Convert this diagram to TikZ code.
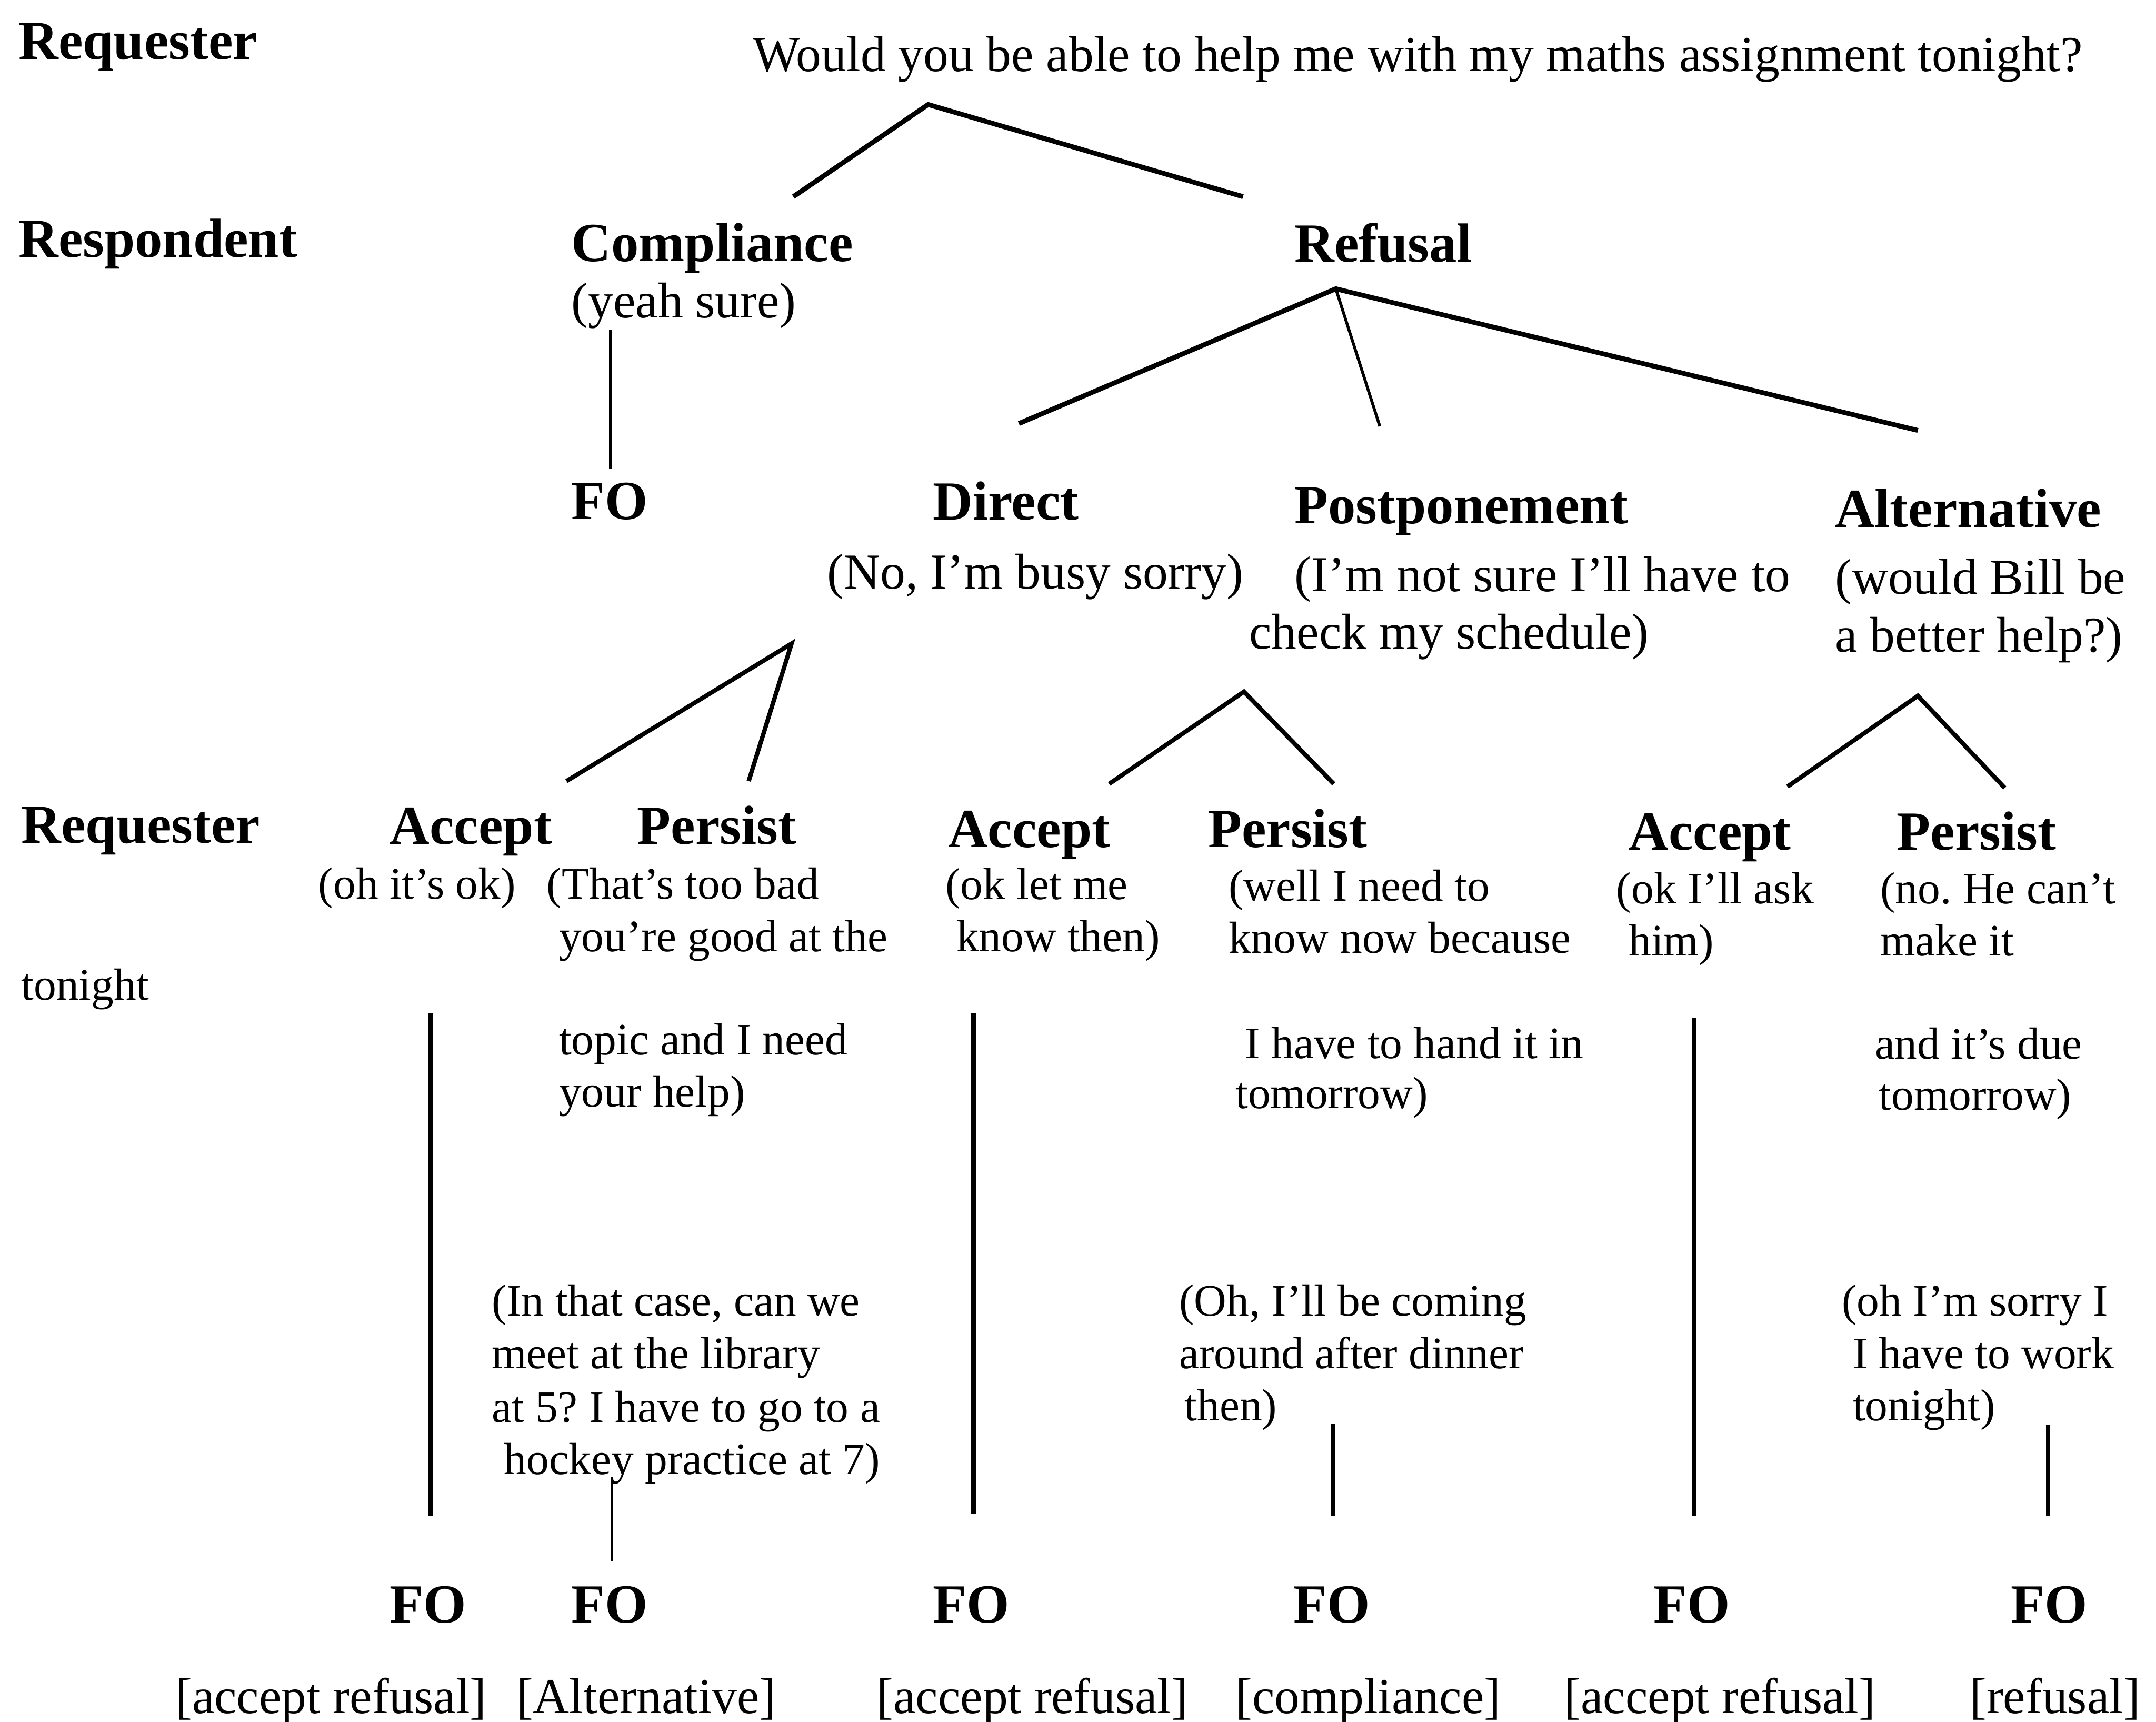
\documentclass[tikz,border=0pt]{standalone}
\usepackage{fontspec}
\setmainfont{Liberation Serif}
\frenchspacing
\begin{document}
\begin{tikzpicture}[x=0.01cm,y=-0.01cm,line width=0.9pt,
	head/.style={anchor=base west,inner sep=0pt,font=\fontsize{11.4}{13}\selectfont\bfseries},
	utt/.style={anchor=base west,inner sep=0pt,font=\fontsize{10.4}{12}\selectfont},
	reply/.style={utt,font=\fontsize{9.3}{11}\selectfont},
	branch/.style={line width=1pt},
	fine/.style={line width=0.6pt}]
		\useasboundingbox (0,0) rectangle (1568,1252);
		\node[head] (req1) at (12,43) {Requester};
		\node[utt] (question) at (546,52) {Would you be able to help me with my maths assignment tonight?};
		\node[head] (resp) at (12,187) {Respondent};
		\node[head] (compl) at (414,190) {Compliance};
		\node[utt] (complex) at (414,231) {(yeah sure)};
		\node[head] (refusal) at (940,190.5) {Refusal};
		\node[head] (fo0) at (414,377.6) {FO};
		\node[head] (direct) at (677,378) {Direct};
		\node[utt] (directex) at (600,428) {(No, I'm busy sorry)};
		\node[head] (postp) at (940,380.6) {Postponement};
		\node[utt] (postpexa) at (940,430) {(I'm not sure I'll have to};
		\node[utt] (postpexb) at (907,472) {check my schedule)};
		\node[head] (altern) at (1333,383.5) {Alternative};
		\node[utt] (alternexa) at (1333,432) {(would Bill be};
		\node[utt] (alternexb) at (1333,474) {a better help?)};
		\node[head] (req2) at (14,613) {Requester};
		\node[reply] (tonight) at (14,727) {tonight};
		\node[head] (accA) at (282,614) {Accept};
		\node[reply] (accAa) at (230,653.6) {(oh it's ok)};
		\node[head] (perA) at (462,614) {Persist};
		\node[reply] (perAa) at (396,653.6) {(That's too bad};
		\node[reply] (perAb) at (405,692) {you're good at the};
		\node[reply] (perAc) at (405,767) {topic and I need};
		\node[reply] (perAd) at (405,805) {your help)};
		\node[reply] (respAa) at (356,957) {(In that case, can we};
		\node[reply] (respAb) at (356,995) {meet at the library};
		\node[reply] (respAc) at (356,1034) {at 5? I have to go to a};
		\node[reply] (respAd) at (365,1072) {hockey practice at 7)};
		\node[head] (accB) at (688,616) {Accept};
		\node[reply] (accBa) at (686,654) {(ok let me};
		\node[reply] (accBb) at (694,692) {know then)};
		\node[head] (perB) at (877,616) {Persist};
		\node[reply] (perBa) at (892,655) {(well I need to};
		\node[reply] (perBb) at (892,693) {know now because};
		\node[reply] (perBc) at (904,769.5) {I have to hand it in};
		\node[reply] (perBd) at (897,806) {tomorrow)};
		\node[reply] (respBa) at (856,957) {(Oh, I'll be coming};
		\node[reply] (respBb) at (856,995) {around after dinner};
		\node[reply] (respBc) at (860,1033) {then)};
		\node[head] (accC) at (1183,618) {Accept};
		\node[reply] (accCa) at (1174,657) {(ok I'll ask};
		\node[reply] (accCb) at (1183,695) {him)};
		\node[head] (perC) at (1378,618) {Persist};
		\node[reply] (perCa) at (1366,657) {(no. He can't};
		\node[reply] (perCb) at (1366,695) {make it};
		\node[reply] (perCc) at (1362,770) {and it's due};
		\node[reply] (perCd) at (1365,807) {tomorrow)};
		\node[reply] (respCa) at (1338,957) {(oh I'm sorry I};
		\node[reply] (respCb) at (1346,995) {I have to work};
		\node[reply] (respCc) at (1346,1033) {tonight)};
		\foreach \n/\x in {1/282,2/414,3/677,4/939,5/1201,6/1461}
			\node[head] (fo\n) at (\x,1180) {FO};
		\foreach \n/\x/\t in {1/126/{[accept refusal]},2/374/{[Alternative]},3/636/{[accept refusal]},4/897/{[compliance]},5/1136/{[accept refusal]},6/1431/{[refusal]}}
			\node[utt] (out\n) at (\x,1246) {\t};
		\coordinate (qroot) at (675,76);
		\coordinate (qcompl) at (577,143);
		\coordinate (qref) at (904,143);
		\coordinate (compltop) at (444,240);
		\coordinate (complbot) at (444,341);
		\coordinate (refroot) at (971.5,210);
		\coordinate (refdir) at (741,308);
		\coordinate (refpost) at (1003.5,310);
		\coordinate (refalt) at (1394.8,313);
		\coordinate (dirroot) at (575.7,468);
		\coordinate (diracc) at (412,568);
		\coordinate (dirper) at (544.5,568);
		\coordinate (postroot) at (904.7,503);
		\coordinate (postacc) at (806.7,570);
		\coordinate (postper) at (970,570);
		\coordinate (altroot) at (1394.8,506);
		\coordinate (altacc) at (1300,572);
		\coordinate (altper) at (1458,573);
		\coordinate (accAtop) at (313,737);
		\coordinate (accAbot) at (313,1102);
		\coordinate (accBtop) at (708,737);
		\coordinate (accBbot) at (708,1101);
		\coordinate (accCtop) at (1232,740);
		\coordinate (accCbot) at (1232,1102);
		\coordinate (respAtop) at (445,1074);
		\coordinate (respAbot) at (445,1135);
		\coordinate (respBtop) at (969.5,1035);
		\coordinate (respBbot) at (969.5,1102);
		\coordinate (respCtop) at (1489.5,1036);
		\coordinate (respCbot) at (1489.5,1102);
		\draw[branch] (qcompl) -- (qroot) -- (qref);
		\draw[fine] (compltop) -- (complbot);
		\draw[branch] (refdir) -- (refroot) -- (refalt);
		\draw[fine] (refroot) -- (refpost);
		\draw (diracc) -- (dirroot) -- (dirper);
		\draw (postacc) -- (postroot) -- (postper);
		\draw (altacc) -- (altroot) -- (altper);
		\draw (accAtop) -- (accAbot);
		\draw (accBtop) -- (accBbot);
		\draw (accCtop) -- (accCbot);
		\draw[fine] (respAtop) -- (respAbot);
		\draw (respBtop) -- (respBbot);
		\draw (respCtop) -- (respCbot);
	\end{tikzpicture}
\end{document}
